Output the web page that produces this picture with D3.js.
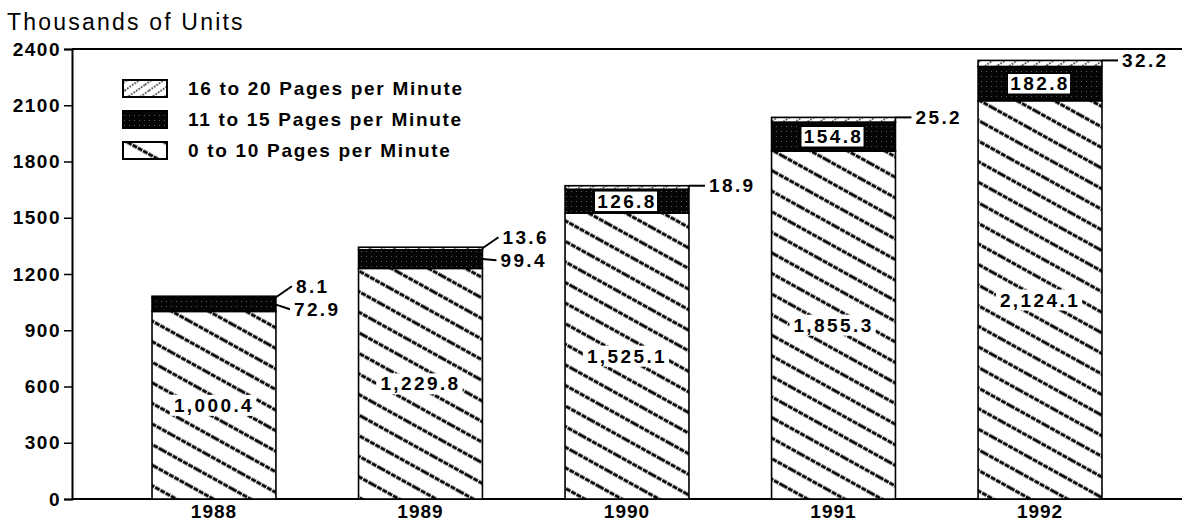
<!DOCTYPE html>
<html>
<head>
<meta charset="utf-8">
<script src="https://cdn.jsdelivr.net/npm/d3@7"></script>
<style>
  body { margin: 0; background: #fff; }
  svg { display: block; font-family: "Liberation Sans", Arial, sans-serif; }
</style>
</head>
<body>
<svg id="chart"></svg>
<script>
const years = ["1988", "1989", "1990", "1991", "1992"];
const low = [1000.4, 1229.8, 1525.1, 1855.3, 2124.1];   // 0 to 10 ppm
const mid = [72.9, 99.4, 126.8, 154.8, 182.8];          // 11 to 15 ppm
const high = [8.1, 13.6, 18.9, 25.2, 32.2];             // 16 to 20 ppm
const seriesNames = ["16 to 20 Pages per Minute", "11 to 15 Pages per Minute", "0 to 10 Pages per Minute"];
const yTicks = [0, 300, 600, 900, 1200, 1500, 1800, 2100, 2400];

const W = 1182, H = 525;
const svg = d3.select("#chart").attr("width", W).attr("height", H);

// patterns
const defs = svg.append("defs");
const pLow = defs.append("pattern").attr("id", "pLow")
    .attr("patternUnits", "userSpaceOnUse").attr("width", 40).attr("height", 18)
    .attr("patternTransform", "rotate(29)");
pLow.append("rect").attr("width", 40).attr("height", 18).attr("fill", "#fff");
pLow.append("line").attr("x1", 0).attr("x2", 40).attr("y1", 9).attr("y2", 9)
    .attr("stroke", "#000").attr("stroke-width", 3.2).attr("stroke-dasharray", "5 1");

const pMid = defs.append("pattern").attr("id", "pMid")
    .attr("patternUnits", "userSpaceOnUse").attr("width", 5).attr("height", 5);
pMid.append("rect").attr("width", 5).attr("height", 5).attr("fill", "#050505");
pMid.append("circle").attr("cx", 1.5).attr("cy", 1.5).attr("r", 0.6).attr("fill", "#666");

const pHigh = defs.append("pattern").attr("id", "pHigh")
    .attr("patternUnits", "userSpaceOnUse").attr("width", 20).attr("height", 7)
    .attr("patternTransform", "rotate(-35)");
pHigh.append("rect").attr("width", 20).attr("height", 7).attr("fill", "#fff");
pHigh.append("line").attr("x1", 0).attr("x2", 20).attr("y1", 3).attr("y2", 3)
    .attr("stroke", "#444").attr("stroke-width", 1.8).attr("stroke-dasharray", "1.5 1.5");

const fills = ["url(#pLow)", "url(#pMid)", "url(#pHigh)"];

const x = d3.scaleBand().domain(years).range([72, 1182]).paddingInner(0.4).paddingOuter(0.3875);
const y = d3.scaleLinear().domain([0, 2400]).range([499, 49]);

const fmt = d3.format(",.1f");
const data = years.map((yr, i) => ({ year: yr, low: low[i], mid: mid[i], high: high[i] }));
const stack = d3.stack().keys(["low", "mid", "high"])(data);

// frame lines
svg.append("line").attr("x1", 72).attr("x2", W).attr("y1", y(2400)).attr("y2", y(2400))
    .attr("stroke", "#000").attr("stroke-width", 2);
svg.append("line").attr("x1", 72).attr("x2", W).attr("y1", y(0)).attr("y2", y(0))
    .attr("stroke", "#000").attr("stroke-width", 2);

// y axis
const yAxis = svg.append("g").attr("transform", "translate(72,0)")
    .call(d3.axisLeft(y).tickValues(yTicks).tickFormat(d3.format("d")).tickSize(8).tickPadding(3));
yAxis.select(".domain").attr("stroke-width", 2);
yAxis.selectAll("line").attr("stroke-width", 1.5);
yAxis.selectAll("text")
    .style("font-size", "19px").style("font-weight", "bold")
    .style("letter-spacing", "1.5px").attr("fill", "#000")
    .attr("font-family", "Liberation Sans, Arial, sans-serif");

// x labels
svg.append("g").selectAll("text").data(years).enter().append("text")
    .attr("x", d => x(d) + x.bandwidth() / 2)
    .attr("y", 518)
    .attr("text-anchor", "middle")
    .style("font-size", "19px").style("font-weight", "bold").style("letter-spacing", "1px")
    .text(d => d);

// title
svg.append("text").attr("x", 7).attr("y", 30)
    .style("font-size", "23px").style("letter-spacing", "2.2px")
    .text("Thousands of Units");

// bars
stack.forEach((layer, k) => {
    svg.append("g").selectAll("rect").data(layer).enter().append("rect")
        .attr("x", d => x(d.data.year))
        .attr("width", x.bandwidth())
        .attr("y", d => y(d[1]))
        .attr("height", d => y(d[0]) - y(d[1]))
        .attr("fill", fills[k])
        .attr("stroke", "#000").attr("stroke-width", 1.6);
});

// labels
const lblStyle = sel => sel.style("font-size", "19px").style("font-weight", "bold")
    .style("letter-spacing", "2.4px");

data.forEach(d => {
    const x0 = x(d.year), bw = x.bandwidth(), cx = x0 + bw / 2, right = x0 + bw;
    const total = d.low + d.mid + d.high;
    // bottom segment label with white halo box
    const g1 = svg.append("g");
    const t1 = g1.append("text").attr("x", cx).attr("y", y(d.low / 2)).attr("dy", "0.35em")
        .attr("text-anchor", "middle").call(lblStyle).text(fmt(d.low));
    const b1 = t1.node().getBBox();
    g1.insert("rect", "text").attr("x", b1.x - 4).attr("y", b1.y)
        .attr("width", b1.width + 6).attr("height", b1.height).attr("fill", "#fff");

    const midPx = y(d.low) - y(d.low + d.mid);
    const yTop = y(total);
    const lx = right + 20;
    if (midPx >= 20) {
        const g2 = svg.append("g");
        const t2 = g2.append("text").attr("x", cx).attr("y", y(d.low + d.mid / 2)).attr("dy", "0.35em")
            .attr("text-anchor", "middle").call(lblStyle).text(fmt(d.mid));
        const b2 = t2.node().getBBox();
        g2.insert("rect", "text").attr("x", b2.x - 3).attr("y", b2.y)
            .attr("width", b2.width + 4).attr("height", b2.height)
            .attr("fill", "#fff").attr("stroke", "#000").attr("stroke-width", 1.5);
        svg.append("line").attr("x1", right).attr("x2", lx - 4).attr("y1", yTop).attr("y2", yTop)
            .attr("stroke", "#000").attr("stroke-width", 2);
        svg.append("text").attr("x", lx).attr("y", yTop).attr("dy", "0.35em")
            .call(lblStyle).text(fmt(d.high));
    } else {
        const yH = yTop - 10, yM = yTop + 13;
        svg.append("line").attr("x1", right).attr("x2", lx - 4).attr("y1", yTop + 1).attr("y2", yH)
            .attr("stroke", "#000").attr("stroke-width", 2);
        svg.append("text").attr("x", lx).attr("y", yH).attr("dy", "0.35em")
            .call(lblStyle).text(fmt(d.high));
        svg.append("line").attr("x1", right).attr("x2", lx - 6).attr("y1", y(d.low + d.mid / 2)).attr("y2", yM)
            .attr("stroke", "#000").attr("stroke-width", 2);
        svg.append("text").attr("x", lx - 2).attr("y", yM).attr("dy", "0.35em")
            .call(lblStyle).text(fmt(d.mid));
    }
});

// legend
const legend = svg.append("g").attr("transform", "translate(123,88)");
const legFills = [fills[2], fills[1], fills[0]];
seriesNames.forEach((name, i) => {
    const row = legend.append("g").attr("transform", `translate(0,${i * 31})`);
    row.append("rect").attr("x", 0).attr("y", -8).attr("width", 44).attr("height", 17)
        .attr("fill", legFills[i]).attr("stroke", "#000").attr("stroke-width", 2);
    row.append("text").attr("x", 65).attr("y", 0).attr("dy", "0.35em")
        .style("font-size", "19px").style("font-weight", "bold").style("letter-spacing", "1.7px")
        .text(name);
});
</script>
</body>
</html>
